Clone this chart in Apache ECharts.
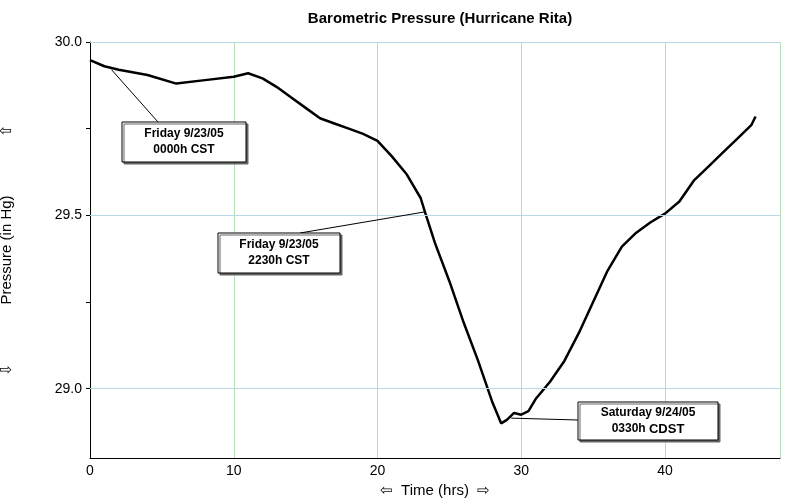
<!DOCTYPE html>
<html>
<head>
<meta charset="utf-8">
<script src="https://cdn.jsdelivr.net/npm/echarts@6/dist/echarts.min.js"></script>
<style>
  html, body { margin: 0; padding: 0; background: #fff; }
  #chart { width: 800px; height: 504px; }
</style>
</head>
<body>
<div id="chart"></div>
<script>
// hours since Friday 9/23/05 0000h CST
const hours = [0, 1, 2, 4, 6, 8, 10, 11, 12, 13, 14, 15, 16, 17, 18, 19, 20, 21, 22, 23, 23.3,
  24, 25, 26, 27, 28, 28.6, 29, 29.5, 30, 30.5, 31, 32, 33, 34, 35, 36, 37, 38, 39, 40,
  41, 42, 43, 44, 45, 46, 46.3];
const pressure = [29.948, 29.93, 29.92, 29.905, 29.88, 29.89, 29.90, 29.91, 29.895, 29.87, 29.84, 29.81, 29.78, 29.765, 29.75, 29.735, 29.715, 29.67, 29.62, 29.55, 29.51,
  29.42, 29.31, 29.19, 29.08, 28.96, 28.90, 28.91, 28.93, 28.925, 28.935, 28.97, 29.02, 29.08, 29.16, 29.25, 29.34, 29.41, 29.45, 29.48, 29.505,
  29.54, 29.60, 29.64, 29.68, 29.72, 29.76, 29.785];
const yGridLines = [29.0, 29.5, 30.0];
const notes = [
  { text: 'Friday 9/23/05\n0000h CST', at: [1.5, 29.92], box: [122, 122, 124, 40], from: [158, 122] },
  { text: 'Friday 9/23/05\n2230h CST', at: [23.3, 29.51], box: [218, 233, 122, 40], from: [300, 233] },
  { text: 'Saturday 9/24/05\n0330h {b|CDST}', at: [29.3, 28.915], box: [578, 402, 140, 38], from: [578, 420] }
];

const chart = echarts.init(document.getElementById('chart'));
const font = 'Arial, "Liberation Sans", sans-serif';

chart.setOption({
  animation: false,
  title: {
    text: 'Barometric Pressure (Hurricane Rita)',
    left: 435, top: 6, textAlign: 'center',
    textStyle: { fontSize: 15, fontWeight: 'bold', color: '#000', fontFamily: font }
  },
  grid: { left: 90, right: 20, top: 42, bottom: 46, containLabel: false, outerBoundsMode: 'none' },
  xAxis: {
    type: 'value', min: 0, max: 48, interval: 10,
    name: '⇦  Time (hrs)  ⇨', nameLocation: 'middle', nameGap: 22,
    nameTextStyle: { fontSize: 15, color: '#000', fontFamily: font },
    axisLine: { lineStyle: { color: '#000', width: 1 } },
    axisTick: { show: false },
    axisLabel: { color: '#000', fontSize: 14, fontFamily: font, showMaxLabel: false, margin: 6 },
    splitLine: { show: true, lineStyle: { color: '#b8e0b8' } }
  },
  yAxis: {
    type: 'value', min: 28.8, max: 30,
    name: '⇩              Pressure (in Hg)              ⇧', nameLocation: 'middle', nameGap: 76,
    nameTextStyle: { fontSize: 15, color: '#000', fontFamily: font },
    axisLine: { show: true, lineStyle: { color: '#000', width: 1 } },
    axisTick: { show: true, customValues: [29.0, 29.25, 29.5, 29.75, 30.0], length: 4 },
    axisLabel: { customValues: yGridLines, color: '#000', fontSize: 14, fontFamily: font,
      formatter: v => v.toFixed(1) },
    splitLine: { show: false }
  },
  series: [{
    type: 'line',
    data: hours.map((h, i) => [h, pressure[i]]),
    showSymbol: false,
    lineStyle: { color: '#000', width: 2.5 },
    markLine: {
      silent: true, symbol: 'none', label: { show: false },
      lineStyle: { color: '#b8d8e8', type: 'solid', width: 1 },
      data: yGridLines.map(v => ({ yAxis: v }))
    },
    z: 3
  }]
});

const graphics = [];
notes.forEach(n => {
  const p = chart.convertToPixel({ gridIndex: 0 }, n.at);
  const [bx, by, bw, bh] = n.box;
  graphics.push({
    type: 'line', z: 10,
    shape: { x1: n.from[0], y1: n.from[1], x2: p[0], y2: p[1] },
    style: { stroke: '#000', lineWidth: 1 }
  });
  graphics.push({
    type: 'rect', z: 11,
    shape: { x: bx, y: by, width: bw, height: bh },
    style: { fill: '#fff', stroke: '#000', lineWidth: 1, shadowColor: '#666', shadowOffsetX: 2, shadowOffsetY: 2 }
  });
  graphics.push({
    type: 'text', z: 12,
    x: bx + bw / 2, y: by + bh / 2,
    style: {
      text: n.text, fill: '#000', font: 'bold 12px ' + font,
      align: 'center', verticalAlign: 'middle', lineHeight: 16,
      rich: { b: { fontWeight: 'bold', fontSize: 13, fontFamily: font } }
    }
  });
});
chart.setOption({ graphic: graphics });
</script>
</body>
</html>
